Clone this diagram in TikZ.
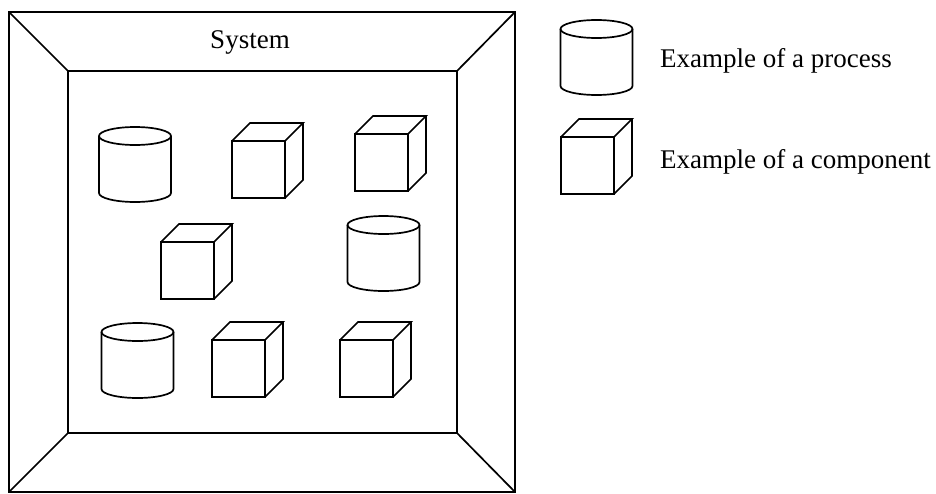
\documentclass[tikz,border=0pt]{standalone}
\usepackage{fontspec}
\setmainfont{Liberation Serif}
\begin{document}
\begin{tikzpicture}[x=1pt,y=1pt,
  shape line/.style={draw=black, line width=1.7pt, line join=miter},
  label text/.style={inner sep=0pt, font=\fontsize{27}{32}\selectfont},
  % cube: origin at the top-left corner of the front face
  pics/cube/.style={code={
    \draw[shape line] (0,0) rectangle (53,-57);
    \draw[shape line] (0,0) -- (18,18) -- (71,18) -- (53,0);
    \draw[shape line] (71,18) -- (71,-39) -- (53,-57);
  }},
  % cylinder: origin at the centre of the top ellipse
  pics/cylinder/.style={code={
    \draw[shape line] (0,0) ellipse [x radius=36, y radius=9];
    \draw[shape line] (-36,0) -- (-36,-57)
      arc [start angle=180, end angle=360, x radius=36, y radius=9]
      -- (36,0);
  }}
]
\useasboundingbox (0,0) rectangle (936,-493);

% system frame
\coordinate (oTL) at (9,-12);
\coordinate (oTR) at (515,-12);
\coordinate (oBR) at (515,-492);
\coordinate (oBL) at (9,-492);
\coordinate (iTL) at (68,-71);
\coordinate (iTR) at (457,-71);
\coordinate (iBR) at (457,-433);
\coordinate (iBL) at (68,-433);
\draw[shape line] (oTL) -- (oTR) -- (oBR) -- (oBL) -- cycle;
\draw[shape line] (iTL) -- (iTR) -- (iBR) -- (iBL) -- cycle;
\draw[shape line] (oTL) -- (iTL);
\draw[shape line] (oTR) -- (iTR);
\draw[shape line] (oBR) -- (iBR);
\draw[shape line] (oBL) -- (iBL);
\node[label text, anchor=base] (system) at (250,-48.5) {System};

% contents of the system
\pic (p1) at (135,-136) {cylinder};
\pic (c1) at (232,-141) {cube};
\pic (c2) at (355,-134) {cube};
\pic (c3) at (161,-242) {cube};
\pic (p2) at (383.5,-225) {cylinder};
\pic (p3) at (137.5,-332) {cylinder};
\pic (c4) at (212,-340) {cube};
\pic (c5) at (340,-340) {cube};

% legend
\pic (lp) at (596.5,-29) {cylinder};
\node[label text, anchor=base west] (lptext) at (660,-67.5) {Example of a process};
\pic (lc) at (561,-137) {cube};
\node[label text, anchor=base west] (lctext) at (660,-168) {Example of a component};
\end{tikzpicture}
\end{document}
